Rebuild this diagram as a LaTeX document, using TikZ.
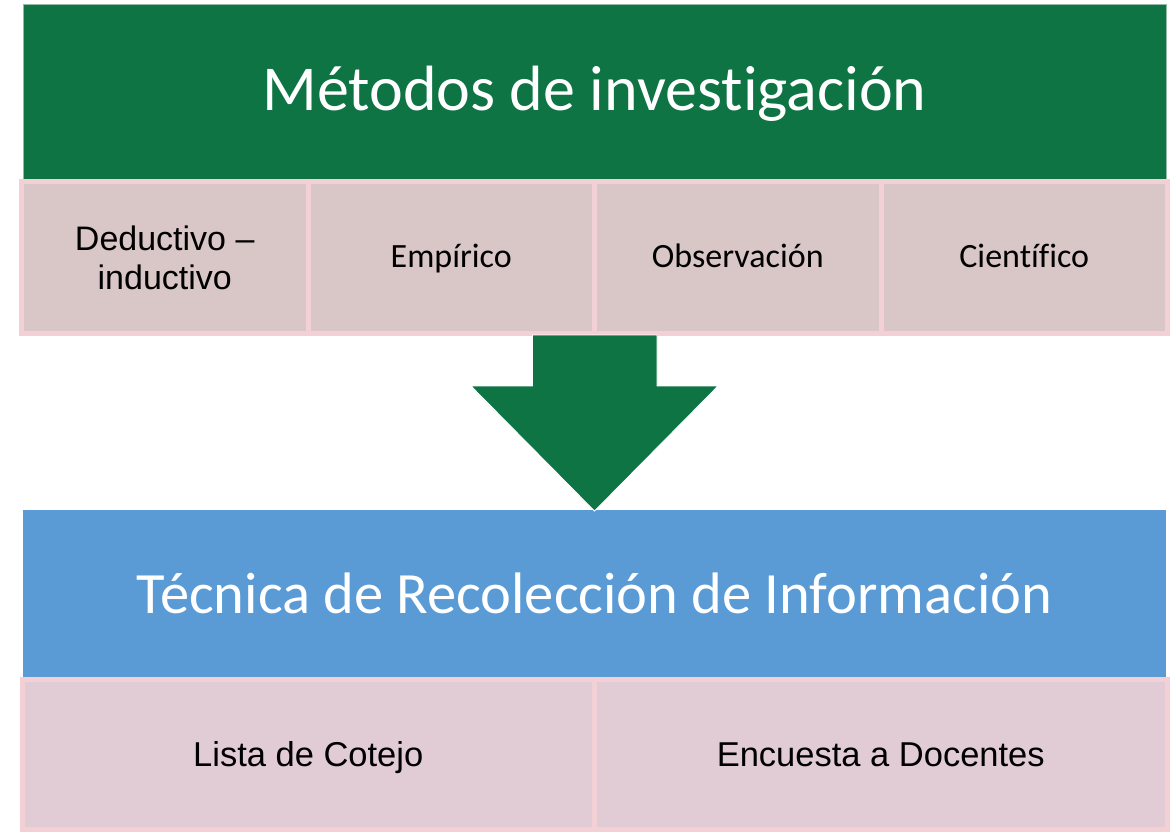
\documentclass[tikz,border=0pt]{standalone}
\usepackage{fontspec}
\setmainfont{Carlito}
\newfontfamily\carlito[Ligatures={NoCommon}]{Carlito}
\newfontfamily\arialf{Liberation Sans}
\definecolor{hdrgreen}{RGB}{14,116,68}
\definecolor{hdrblue}{RGB}{91,155,213}
\definecolor{cellA}{RGB}{217,198,198}
\definecolor{cellB}{RGB}{225,203,212}
\definecolor{cellborder}{RGB}{242,208,213}
\definecolor{hdrline}{RGB}{150,185,165}
\tikzset{
  header/.style={rectangle, inner sep=0pt, outer sep=0pt, text=white, align=center, text depth=0pt},
  cellbox/.style={rectangle, draw=cellborder, line width=5pt, inner sep=0pt, outer sep=0pt,
     text=black, align=center},
  bigarrow/.style={fill=hdrgreen, draw=white, line width=0.8pt, line join=miter}
}
\begin{document}
\begin{tikzpicture}[x=1pt,y=-1pt]
\useasboundingbox (0,0) rectangle (1175,832);
% top header
\node[header, fill=hdrgreen, draw=hdrline, line width=0.6pt, minimum width=1143pt, minimum height=175pt,
  text height=39pt, font=\carlito\fontsize{64}{70}\selectfont] (meth) at (594.5,91.5) {Métodos de investigación};
% method cells
\node[cellbox, fill=cellA, minimum width=286.5pt, minimum height=152pt,
  font=\arialf\fontsize{34}{39}\selectfont] (ded) at (164.75,257.5) {\raisebox{-2pt}{Deductivo –}\\\raisebox{-2pt}{inductivo}};
\node[cellbox, fill=cellA, minimum width=286.5pt, minimum height=152pt, text height=20.4pt, text depth=0pt,
  font=\carlito\fontsize{34}{40}\selectfont] (emp) at (451.25,257.5) {Empírico};
\node[cellbox, fill=cellA, minimum width=286.5pt, minimum height=152pt, text height=20.4pt, text depth=0pt,
  font=\carlito\fontsize{34}{40}\selectfont] (obs) at (737.75,257.5) {Observación};
\node[cellbox, fill=cellA, minimum width=286.5pt, minimum height=152pt, text height=20.4pt, text depth=0pt,
  font=\carlito\fontsize{34}{40}\selectfont] (cie) at (1024.25,257.5) {Científico};
% bottom header
\node[header, fill=hdrblue, minimum width=1143pt, minimum height=167pt,
  text height=39.6pt, font=\carlito\fontsize{58.5}{64}\selectfont] (tec) at (594.5,593.5) {Técnica de Recolección de Información};
% technique cells
\node[cellbox, fill=cellB, minimum width=572.5pt, minimum height=150pt, text height=24.4pt, text depth=0pt,
  font=\arialf\fontsize{34.5}{40}\selectfont] (lis) at (308.25,754.5) {Lista de Cotejo};
\node[cellbox, fill=cellB, minimum width=572.5pt, minimum height=150pt, text height=24.4pt, text depth=0pt,
  font=\arialf\fontsize{34.5}{40}\selectfont] (enc) at (880.75,754.5) {Encuesta a Docentes};
% block arrow from methods row to technique header
\coordinate (atop) at (594.5,335);
\coordinate (atip) at (tec.north);
\path[bigarrow] ([xshift=-62pt]atop) -- ([xshift=62.5pt]atop) -- ([xshift=62.5pt,yshift=-51pt]atop)
  -- ([xshift=123.5pt,yshift=-51pt]atop) -- ([yshift=-1pt]atip) -- ([xshift=-123.5pt,yshift=-51pt]atop)
  -- ([xshift=-62pt,yshift=-51pt]atop) -- cycle;
\end{tikzpicture}
\end{document}
